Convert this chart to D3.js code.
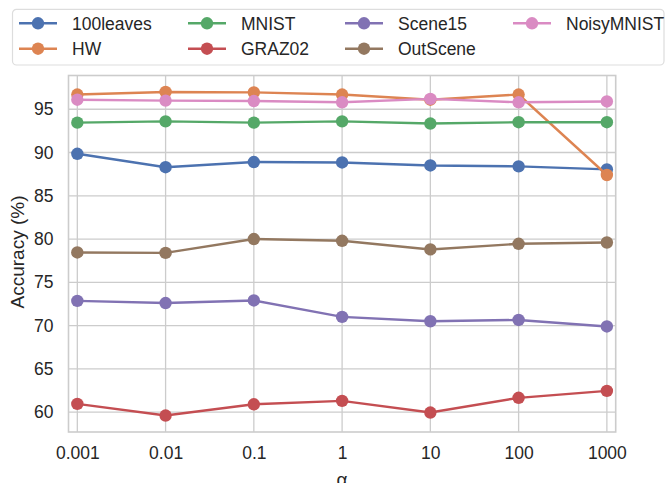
<!DOCTYPE html>
<html>
<head>
<meta charset="utf-8">
<script src="https://cdn.jsdelivr.net/npm/d3@7"></script>
<style>
  html, body { margin: 0; padding: 0; background: #fff; }
  svg { display: block; font-family: "Liberation Sans", Arial, sans-serif; }
</style>
</head>
<body>
<div id="chart"></div>
<script>
// Accuracy vs alpha for each dataset

const alphas = ["0.001", "0.01", "0.1", "1", "10", "100", "1000"];
const yTicks = [60, 65, 70, 75, 80, 85, 90, 95];

const leaves100 = [89.85, 88.3, 88.9, 88.85, 88.5, 88.4, 88.05];
const hw        = [96.7, 97.0, 96.95, 96.7, 96.1, 96.7, 87.4];
const mnist     = [93.45, 93.6, 93.45, 93.6, 93.35, 93.5, 93.5];
const graz02    = [60.95, 59.6, 60.9, 61.3, 59.95, 61.65, 62.45];
const scene15   = [72.85, 72.6, 72.9, 71.0, 70.5, 70.65, 69.9];
const outScene  = [78.45, 78.4, 80.0, 79.8, 78.8, 79.45, 79.6];
const noisy     = [96.1, 96.0, 95.95, 95.8, 96.2, 95.8, 95.9];

const seriesNames = ["100leaves", "HW", "MNIST", "GRAZ02", "Scene15", "OutScene", "NoisyMNIST"];
const seriesValues = [leaves100, hw, mnist, graz02, scene15, outScene, noisy];
const colors = ["#4C72B0", "#DD8452", "#55A868", "#C44E52", "#8172B3", "#937860", "#DA8BC3"];

const W = 666, H = 483;
const plot = {left: 68.5, right: 615.7, top: 75.5, bottom: 432};
const gridColor = "#cccccc";

const svg = d3.select("#chart").append("svg")
  .attr("width", W)
  .attr("height", H);

const x = d3.scalePoint()
  .domain(alphas)
  .range([plot.left, plot.right])
  .padding(0.1);

const y = d3.scaleLinear()
  .domain([57.7, 98.9])
  .range([plot.bottom, plot.top]);

// grid
svg.append("g")
  .selectAll("line")
  .data(alphas)
  .join("line")
  .attr("x1", d => x(d)).attr("x2", d => x(d))
  .attr("y1", plot.top).attr("y2", plot.bottom)
  .attr("stroke", gridColor).attr("stroke-width", 1.3);

svg.append("g")
  .selectAll("line")
  .data(yTicks)
  .join("line")
  .attr("x1", plot.left).attr("x2", plot.right)
  .attr("y1", d => y(d)).attr("y2", d => y(d))
  .attr("stroke", gridColor).attr("stroke-width", 1.3);

// frame
svg.append("rect")
  .attr("x", plot.left).attr("y", plot.top)
  .attr("width", plot.right - plot.left)
  .attr("height", plot.bottom - plot.top)
  .attr("fill", "none")
  .attr("stroke", gridColor)
  .attr("stroke-width", 1.6);

// axes (labels only, seaborn style)
const xAxis = svg.append("g")
  .attr("transform", `translate(0, ${plot.bottom})`)
  .call(d3.axisBottom(x).tickSize(0).tickPadding(15));
xAxis.select(".domain").remove();
xAxis.selectAll("text")
  .style("font-family", "Liberation Sans, Arial, sans-serif")
  .style("font-size", "17.5px")
  .attr("fill", "#262626");

const yAxis = svg.append("g")
  .attr("transform", `translate(${plot.left}, 0)`)
  .call(d3.axisLeft(y).tickValues(yTicks).tickSize(0).tickPadding(15));
yAxis.select(".domain").remove();
yAxis.selectAll("text")
  .style("font-family", "Liberation Sans, Arial, sans-serif")
  .style("font-size", "17.5px")
  .attr("fill", "#262626");

svg.append("text")
  .attr("transform", "rotate(-90)")
  .attr("x", -252)
  .attr("y", 24)
  .attr("text-anchor", "middle")
  .style("font-size", "19px")
  .attr("fill", "#262626")
  .text("Accuracy (%)");

svg.append("text")
  .attr("x", x("1"))
  .attr("y", 486)
  .attr("text-anchor", "middle")
  .style("font-size", "19px")
  .attr("fill", "#262626")
  .text("α");

// series
const line = d3.line()
  .x((d, i) => x(alphas[i]))
  .y(d => y(d));

seriesValues.forEach((vals, k) => {
  const g = svg.append("g");
  g.append("path")
    .datum(vals)
    .attr("d", line)
    .attr("fill", "none")
    .attr("stroke", colors[k])
    .attr("stroke-width", 2.4);
  g.selectAll("circle")
    .data(vals)
    .join("circle")
    .attr("cx", (d, i) => x(alphas[i]))
    .attr("cy", d => y(d))
    .attr("r", 6.2)
    .attr("fill", colors[k]);
});

// legend (column-major, 4 columns)
const legend = svg.append("g");
legend.append("rect")
  .attr("x", 12.5).attr("y", 9.3)
  .attr("width", 651.5).attr("height", 55.7)
  .attr("rx", 4)
  .attr("fill", "#fff")
  .attr("stroke", "#dddddd")
  .attr("stroke-width", 1.2);

const colX = [19, 188, 345, 513];
const rowY = [23.3, 48.7];

seriesNames.forEach((name, k) => {
  const cx = colX[Math.floor(k / 2)];
  const cy = rowY[k % 2];
  const item = legend.append("g");
  item.append("line")
    .attr("x1", cx).attr("x2", cx + 38)
    .attr("y1", cy).attr("y2", cy)
    .attr("stroke", colors[k])
    .attr("stroke-width", 2.4);
  item.append("circle")
    .attr("cx", cx + 19).attr("cy", cy)
    .attr("r", 6.2)
    .attr("fill", colors[k]);
  item.append("text")
    .attr("x", cx + 53)
    .attr("y", cy + 6.2)
    .style("font-size", "17.5px")
    .attr("fill", "#262626")
    .text(name);
});
</script>
</body>
</html>
